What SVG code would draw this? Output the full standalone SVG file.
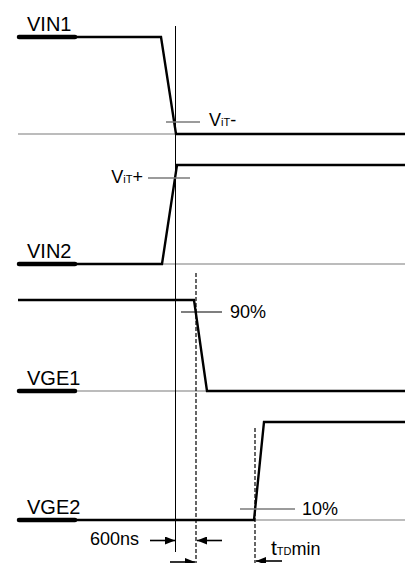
<svg xmlns="http://www.w3.org/2000/svg" width="405" height="563" viewBox="0 0 405 563">
<defs>
<style>
.sig{fill:none;stroke:#000;stroke-width:2.4;stroke-linejoin:miter}
.bar{stroke:#000;stroke-width:4.5;stroke-linecap:round}
.base{stroke:#7a7a7a;stroke-width:1.2}
.tick{stroke:#7a7a7a;stroke-width:1.6}
.tickb{stroke:#000;stroke-width:1.2}
.vl{stroke:#000;stroke-width:1}
.dash{stroke:#000;stroke-width:1.2;stroke-dasharray:4 2}
.lbl{font-family:"Liberation Sans",Arial,sans-serif;font-size:20px;fill:#000}
.txt{font-family:"Liberation Sans",Arial,sans-serif;font-size:18px;fill:#000}
.arr{stroke:#000;stroke-width:1.6}
</style>
<marker id="ah" viewBox="0 0 10 8" refX="10" refY="4" markerWidth="10" markerHeight="8" markerUnits="userSpaceOnUse" orient="auto">
<path d="M0,0 L10,4 L0,8 Z" fill="#000"/>
</marker>
</defs>
<g id="guides">
<line class="base" x1="18" y1="134" x2="405" y2="134"/>
<line class="base" x1="18" y1="264" x2="405" y2="264"/>
<line class="base" x1="18" y1="391" x2="405" y2="391"/>
<line class="base" x1="254" y1="520" x2="405" y2="520"/>
<line class="vl" x1="175.5" y1="26" x2="175.5" y2="552"/>
<line class="dash" x1="196" y1="273" x2="196" y2="563"/>
<line class="dash" x1="255" y1="428" x2="255" y2="563"/>
</g>
<g id="VIN1">
<polyline class="sig" points="18,37 161,37 176,134 405,134"/>
<line class="bar" x1="19" y1="37" x2="75" y2="37"/>
<text class="lbl" x="27" y="31">VIN1</text>
<line class="tick" x1="166" y1="122" x2="200" y2="122"/>
<text x="209" y="126" class="txt" font-size="17"><tspan>V</tspan><tspan font-size="11">iT</tspan><tspan>-</tspan></text>
</g>
<g id="VIN2">
<polyline class="sig" points="18,264 162,264 177,165 405,165"/>
<line class="bar" x1="19" y1="264" x2="75" y2="264"/>
<text class="lbl" x="27" y="258">VIN2</text>
<line class="tick" x1="148" y1="178" x2="190" y2="178"/>
<text x="143" y="183" class="txt" font-size="17" text-anchor="end"><tspan>V</tspan><tspan font-size="11">iT</tspan><tspan>+</tspan></text>
</g>
<g id="VGE1">
<polyline class="sig" points="18,300 194,300 207,391 405,391"/>
<line class="bar" x1="19" y1="391" x2="75" y2="391"/>
<text class="lbl" x="27" y="385">VGE1</text>
<line class="tickb" x1="181" y1="312" x2="222" y2="312"/>
<text class="txt" x="230" y="318">90%</text>
</g>
<g id="VGE2">
<polyline class="sig" points="18,520 254,520 264,422 405,422"/>
<line class="bar" x1="19" y1="520" x2="75" y2="520"/>
<text class="lbl" x="27" y="514">VGE2</text>
<line class="tick" x1="240" y1="509" x2="295" y2="509"/>
<text class="txt" x="302" y="515">10%</text>
</g>
<g id="connectors">
<line class="arr" x1="150" y1="540.5" x2="175" y2="540.5" marker-end="url(#ah)"/>
<line class="arr" x1="222" y1="540.5" x2="197" y2="540.5" marker-end="url(#ah)"/>
<line class="arr" x1="170" y1="562" x2="195" y2="562" marker-end="url(#ah)"/>
<line class="arr" x1="282" y1="561" x2="256" y2="561" marker-end="url(#ah)"/>
</g>
<g id="labels">
<text class="txt" x="90" y="545">600ns</text>
<text class="txt" x="271" y="555"><tspan font-size="21">t</tspan><tspan font-size="11">TD</tspan><tspan>min</tspan></text>
</g>
</svg>
